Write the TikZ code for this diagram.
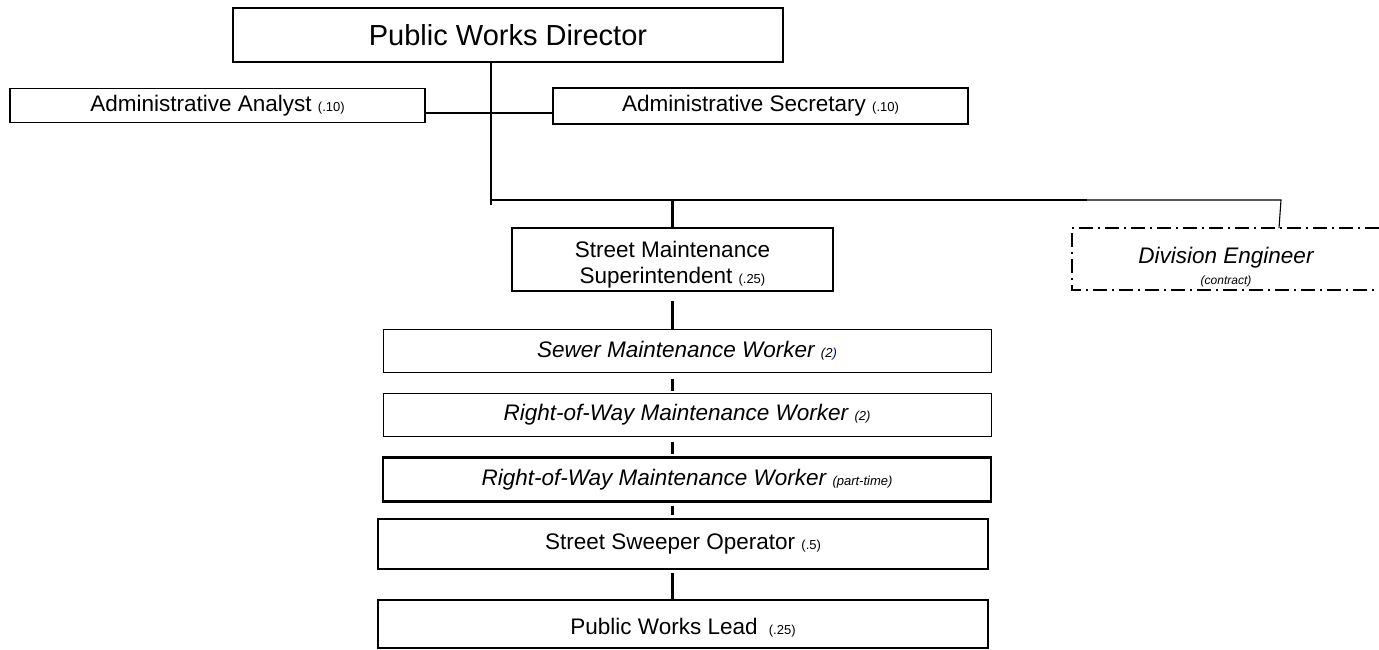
\documentclass[tikz,border=0pt]{standalone}
\usepackage{fontspec}
\setmainfont{Liberation Sans}
\begin{document}
\begin{tikzpicture}[x=1pt,y=-1pt,
  post/.style={draw=black,line width=1.6pt,rectangle,inner sep=0pt,align=center,
    font=\fontsize{22.5}{25}\selectfont},
  worker/.style={post,line width=1pt,minimum width=608,minimum height=43,
    font=\fontsize{22.5}{25}\selectfont\itshape},
  link/.style={draw=black,line width=1.8pt},
  thin link/.style={draw=black,line width=1.1pt},
  thick link/.style={draw=black,line width=2.6pt},
  dashdot box/.style={draw=black,line width=1.2pt,dash pattern=on 14pt off 5pt on 2pt off 5pt}]
\newcommand\fte[1]{{\fontsize{13}{15}\selectfont#1}}
\useasboundingbox (0,0) rectangle (1379,650);
% top level
\node[post,minimum width=550,minimum height=54,font=\fontsize{29}{32}\selectfont] (dir) at (508,35) {Public Works Director};
\node[post,minimum width=415,minimum height=34] (aa) at (217.5,105.5) {Administrative Analyst \fte{(.10)}};
\node[post,minimum width=415,minimum height=36] (as) at (760.5,106) {Administrative Secretary \fte{(.10)}};
% second level
\node[post,minimum width=321,minimum height=63,
  label={[yshift=-5pt,align=center,font=\fontsize{22.5}{25.5}\selectfont]center:Street Maintenance\\Superintendent \fte{(.25)}}]
  (sms) at (672.5,259.5) {};
\node[inner sep=0pt,font=\fontsize{22.5}{25}\selectfont\itshape,
  label={[inner sep=0pt,yshift=-7pt,font=\fontsize{12}{14}\selectfont\itshape]below:(contract)}]
  (de) at (1226,258) {Division Engineer};
\draw[dashdot box] (1379,228) -- (1072,228) -- (1072,290) -- (1379,290);
% field staff
\node[worker] (smw) at (687,351) {Sewer Maintenance Worker \fte{(2\textcolor{blue!70!black}{)}}};
\node[worker] (row) at (687,415) {Right-of-Way Maintenance Worker \fte{(2)}};
\node[worker,line width=2.2pt,minimum height=44] (rowpt) at (687,479.5) {Right-of-Way Maintenance Worker \fte{(part-time)}};
\node[post,minimum width=610,minimum height=50] (sso) at (683,544) {Street Sweeper Operator \fte{(.5)}};
\node[post,minimum width=610,minimum height=48,
  label={[yshift=-4pt,font=\fontsize{22.5}{25}\selectfont]center:Public Works Lead\enspace\fte{(.25)}}]
  (pwl) at (683,624) {};
% connectors
\coordinate (hl) at (491,200);
\coordinate (hlend) at (491,205);
\coordinate (hm) at (1087,200);
\coordinate (hr) at (1281,200);
\coordinate (detop) at (1279,228);
\coordinate (smstop) at (672.5,200);
\draw[link] (dir.south -| hl) -- (hlend);
\draw[link] (aa.east |- 0,113) -- (as.west |- 0,113);
\draw[link] (hl) -- (hm);
\draw[thin link] (hm) -- (hr) -- (detop);
\draw[thick link] (smstop) -- (sms.north);
\draw[thick link,shorten <=9pt] (sms.south) -- (sms.south |- smw.north);
\draw[thick link,shorten <=6pt,shorten >=2pt] (sms.south |- smw.south) -- (sms.south |- row.north);
\draw[thick link,shorten <=5pt,shorten >=2pt] (sms.south |- row.south) -- (sms.south |- rowpt.north);
\draw[thick link,shorten <=3pt,shorten >=3pt] (sms.south |- rowpt.south) -- (sms.south |- sso.north);
\draw[thick link,shorten <=3pt] (sms.south |- sso.south) -- (sms.south |- pwl.north);
\end{tikzpicture}
\end{document}
